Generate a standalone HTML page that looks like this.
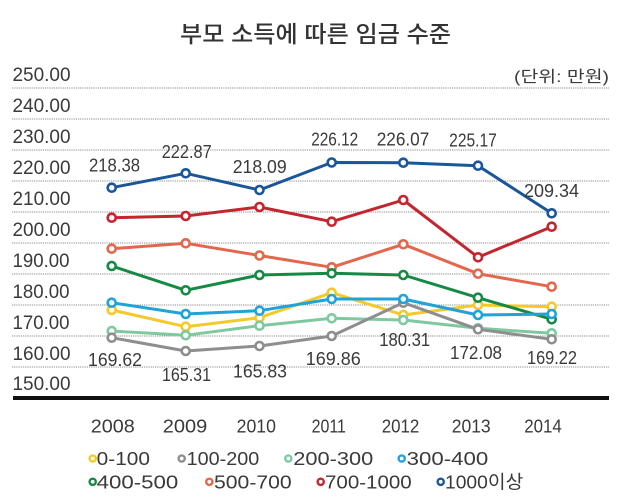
<!DOCTYPE html>
<html>
<head>
<meta charset="utf-8">
<style>
  html,body{margin:0;padding:0;background:#fff;}
  svg{display:block;}
  text{font-family:"Liberation Sans","Noto Sans CJK KR",sans-serif;fill:#3a3a3a;}
  .t{font-family:"Liberation Sans","Noto Sans CJK KR",sans-serif;}
</style>
</head>
<body>
<svg width="620" height="502" viewBox="0 0 620 502" xmlns="http://www.w3.org/2000/svg">
  <rect width="620" height="502" fill="#fff"/>
  <!-- Title -->
  <text x="180" y="42" font-size="23" font-weight="500" textLength="271" lengthAdjust="spacingAndGlyphs" style="fill:#333">부모 소득에 따른 임금 수준</text>
  <text x="514" y="82" font-size="16" textLength="95" lengthAdjust="spacingAndGlyphs">(단위: 만원)</text>

  <!-- gridlines -->
  <g stroke="#8a8a8a" stroke-width="1" stroke-dasharray="1.2 1">
    <line x1="12" y1="88" x2="609" y2="88"/>
    <line x1="12" y1="119" x2="609" y2="119"/>
    <line x1="12" y1="150" x2="609" y2="150"/>
    <line x1="12" y1="181" x2="609" y2="181"/>
    <line x1="12" y1="212" x2="609" y2="212"/>
    <line x1="12" y1="243" x2="609" y2="243"/>
    <line x1="12" y1="274" x2="609" y2="274"/>
    <line x1="12" y1="305" x2="609" y2="305"/>
    <line x1="12" y1="336" x2="609" y2="336"/>
    <line x1="12" y1="367" x2="609" y2="367"/>
  </g>
  <rect x="13" y="396" width="596" height="4" fill="#111"/>

  <!-- y labels -->
  <g font-size="19">
    <text x="12.5" y="81" textLength="58" lengthAdjust="spacingAndGlyphs">250.00</text>
    <text x="12.5" y="112" textLength="58" lengthAdjust="spacingAndGlyphs">240.00</text>
    <text x="12.5" y="143" textLength="58" lengthAdjust="spacingAndGlyphs">230.00</text>
    <text x="12.5" y="174" textLength="58" lengthAdjust="spacingAndGlyphs">220.00</text>
    <text x="12.5" y="205" textLength="58" lengthAdjust="spacingAndGlyphs">210.00</text>
    <text x="12.5" y="236" textLength="58" lengthAdjust="spacingAndGlyphs">200.00</text>
    <text x="12.5" y="267" textLength="57" lengthAdjust="spacingAndGlyphs">190.00</text>
    <text x="12.5" y="298" textLength="57" lengthAdjust="spacingAndGlyphs">180.00</text>
    <text x="12.5" y="329" textLength="57" lengthAdjust="spacingAndGlyphs">170.00</text>
    <text x="12.5" y="360" textLength="58" lengthAdjust="spacingAndGlyphs">160.00</text>
    <text x="12.5" y="390" textLength="58" lengthAdjust="spacingAndGlyphs">150.00</text>
  </g>

  <!-- series -->
  <g fill="none" stroke-width="3" stroke-linejoin="round">
    <!-- navy 1000이상 -->
    <polyline stroke="#1b5699" points="111.7,187.7 185.7,173.3 259.5,190 331.7,162.5 403.3,162.7 478,165.7 551.7,213.3"/>
    <!-- red 700-1000 -->
    <polyline stroke="#c3262f" points="111.7,217.7 185.7,216 259.5,207 331.7,221.7 403.3,200 478,257.3 551.7,226.7"/>
    <!-- orange 500-700 -->
    <polyline stroke="#e2674c" points="111.7,248.7 185.7,243.3 259.5,255.5 331.7,267.3 403.3,244.3 478,273.7 551.7,286.7"/>
    <!-- yellow 0-100 -->
    <polyline stroke="#f4c92b" points="111.7,310 185.7,326.7 259.5,317.7 331.7,292.7 403.3,315 478,305 551.7,306.7"/>
    <!-- mint 200-300 -->
    <polyline stroke="#7fc9a1" points="111.7,331 185.7,335.3 259.5,325.7 331.7,318.3 403.3,320 478,328.3 551.7,333.3"/>
    <!-- gray 100-200 -->
    <polyline stroke="#8e8e8e" points="111.7,337.7 185.7,351 259.5,346 331.7,336 403.3,302.7 478,329.3 551.7,339.3"/>
    <!-- green 400-500 -->
    <polyline stroke="#148a45" points="111.7,266 185.7,290.3 259.5,275 331.7,273.3 403.3,275 478,297.7 551.7,319.3"/>
    <!-- light blue 300-400 -->
    <polyline stroke="#1fa3d9" points="111.7,302.7 185.7,314 259.5,310.7 331.7,299 403.3,299 478,315 551.7,314"/>
  </g>

  <!-- markers -->
  <g fill="#fff" stroke-width="2.6">
    <g stroke="#1b5699">
      <circle cx="111.7" cy="187.7" r="4"/><circle cx="185.7" cy="173.3" r="4"/><circle cx="259.5" cy="190" r="4"/><circle cx="331.7" cy="162.5" r="4"/><circle cx="403.3" cy="162.7" r="4"/><circle cx="478" cy="165.7" r="4"/><circle cx="551.7" cy="213.3" r="4"/>
    </g>
    <g stroke="#c3262f">
      <circle cx="111.7" cy="217.7" r="4"/><circle cx="185.7" cy="216" r="4"/><circle cx="259.5" cy="207" r="4"/><circle cx="331.7" cy="221.7" r="4"/><circle cx="403.3" cy="200" r="4"/><circle cx="478" cy="257.3" r="4"/><circle cx="551.7" cy="226.7" r="4"/>
    </g>
    <g stroke="#e2674c">
      <circle cx="111.7" cy="248.7" r="4"/><circle cx="185.7" cy="243.3" r="4"/><circle cx="259.5" cy="255.5" r="4"/><circle cx="331.7" cy="267.3" r="4"/><circle cx="403.3" cy="244.3" r="4"/><circle cx="478" cy="273.7" r="4"/><circle cx="551.7" cy="286.7" r="4"/>
    </g>
    <g stroke="#f4c92b">
      <circle cx="111.7" cy="310" r="4"/><circle cx="185.7" cy="326.7" r="4"/><circle cx="259.5" cy="317.7" r="4"/><circle cx="331.7" cy="292.7" r="4"/><circle cx="403.3" cy="315" r="4"/><circle cx="478" cy="305" r="4"/><circle cx="551.7" cy="306.7" r="4"/>
    </g>
    <g stroke="#7fc9a1">
      <circle cx="111.7" cy="331" r="4"/><circle cx="185.7" cy="335.3" r="4"/><circle cx="259.5" cy="325.7" r="4"/><circle cx="331.7" cy="318.3" r="4"/><circle cx="403.3" cy="320" r="4"/><circle cx="478" cy="328.3" r="4"/><circle cx="551.7" cy="333.3" r="4"/>
    </g>
    <g stroke="#8e8e8e">
      <circle cx="111.7" cy="337.7" r="4"/><circle cx="185.7" cy="351" r="4"/><circle cx="259.5" cy="346" r="4"/><circle cx="331.7" cy="336" r="4"/><circle cx="403.3" cy="302.7" r="4"/><circle cx="478" cy="329.3" r="4"/><circle cx="551.7" cy="339.3" r="4"/>
    </g>
    <g stroke="#148a45">
      <circle cx="111.7" cy="266" r="4"/><circle cx="185.7" cy="290.3" r="4"/><circle cx="259.5" cy="275" r="4"/><circle cx="331.7" cy="273.3" r="4"/><circle cx="403.3" cy="275" r="4"/><circle cx="478" cy="297.7" r="4"/><circle cx="551.7" cy="319.3" r="4"/>
    </g>
    <g stroke="#1fa3d9">
      <circle cx="111.7" cy="302.7" r="4"/><circle cx="185.7" cy="314" r="4"/><circle cx="259.5" cy="310.7" r="4"/><circle cx="331.7" cy="299" r="4"/><circle cx="403.3" cy="299" r="4"/><circle cx="478" cy="315" r="4"/><circle cx="551.7" cy="314" r="4"/>
    </g>
  </g>

  <!-- data labels -->
  <g font-size="18" text-anchor="middle">
    <text x="114.5" y="171.5" textLength="51" lengthAdjust="spacingAndGlyphs">218.38</text>
    <text x="186.7" y="158.2" textLength="50" lengthAdjust="spacingAndGlyphs">222.87</text>
    <text x="259.7" y="173.2" textLength="54" lengthAdjust="spacingAndGlyphs">218.09</text>
    <text x="334.7" y="145.5" textLength="47" lengthAdjust="spacingAndGlyphs">226.12</text>
    <text x="403" y="145.5" textLength="52.5" lengthAdjust="spacingAndGlyphs">226.07</text>
    <text x="473" y="146.5" textLength="47.7" lengthAdjust="spacingAndGlyphs">225.17</text>
    <text x="551.5" y="197.2" textLength="55" lengthAdjust="spacingAndGlyphs">209.34</text>
    <text x="115" y="365.8" textLength="54" lengthAdjust="spacingAndGlyphs">169.62</text>
    <text x="186.5" y="380.8" textLength="49" lengthAdjust="spacingAndGlyphs">165.31</text>
    <text x="260" y="377.5" textLength="54" lengthAdjust="spacingAndGlyphs">165.83</text>
    <text x="333.3" y="364.8" textLength="55" lengthAdjust="spacingAndGlyphs">169.86</text>
    <text x="404.7" y="345.8" textLength="51" lengthAdjust="spacingAndGlyphs">180.31</text>
    <text x="476" y="359.2" textLength="52" lengthAdjust="spacingAndGlyphs">172.08</text>
    <text x="552" y="363.8" textLength="50" lengthAdjust="spacingAndGlyphs">169.22</text>
  </g>

  <!-- x labels -->
  <g font-size="18.5" text-anchor="middle">
    <text x="112.8" y="432.7" textLength="44" lengthAdjust="spacingAndGlyphs">2008</text>
    <text x="185" y="432.7" textLength="44.5" lengthAdjust="spacingAndGlyphs">2009</text>
    <text x="256.3" y="432.7" textLength="39.3" lengthAdjust="spacingAndGlyphs">2010</text>
    <text x="328.8" y="432.7" textLength="34.3" lengthAdjust="spacingAndGlyphs">2011</text>
    <text x="400.5" y="432.7" textLength="37.6" lengthAdjust="spacingAndGlyphs">2012</text>
    <text x="471.2" y="432.7" textLength="39" lengthAdjust="spacingAndGlyphs">2013</text>
    <text x="543" y="432.7" textLength="37.5" lengthAdjust="spacingAndGlyphs">2014</text>
  </g>

  <!-- legend -->
  <g fill="#fff" stroke-width="2.4">
    <circle cx="92.7" cy="458.5" r="3.1" stroke="#f4c92b"/>
    <circle cx="181.7" cy="458.5" r="3.1" stroke="#8e8e8e"/>
    <circle cx="288.3" cy="458.5" r="3.1" stroke="#7fc9a1"/>
    <circle cx="401.7" cy="458.5" r="3.1" stroke="#1fa3d9"/>
    <circle cx="92.7" cy="481.8" r="3.1" stroke="#148a45"/>
    <circle cx="209.3" cy="481.8" r="3.1" stroke="#e2674c"/>
    <circle cx="320.7" cy="481.8" r="3.1" stroke="#c3262f"/>
    <circle cx="440.7" cy="481.8" r="3.1" stroke="#1b5699"/>
  </g>
  <g font-size="18.5">
    <text x="96.7" y="465.2" textLength="53.3" lengthAdjust="spacingAndGlyphs">0-100</text>
    <text x="186.7" y="465.2" textLength="72.6" lengthAdjust="spacingAndGlyphs">100-200</text>
    <text x="293.3" y="465.2" textLength="80" lengthAdjust="spacingAndGlyphs">200-300</text>
    <text x="406.7" y="465.2" textLength="81.6" lengthAdjust="spacingAndGlyphs">300-400</text>
    <text x="96.7" y="488.5" textLength="81.6" lengthAdjust="spacingAndGlyphs">400-500</text>
    <text x="214" y="488.5" textLength="77.7" lengthAdjust="spacingAndGlyphs">500-700</text>
    <text x="325" y="488.5" textLength="86.7" lengthAdjust="spacingAndGlyphs">700-1000</text>
    <text x="445" y="488.5" textLength="78.3" lengthAdjust="spacingAndGlyphs">1000이상</text>
  </g>
</svg>
</body>
</html>
